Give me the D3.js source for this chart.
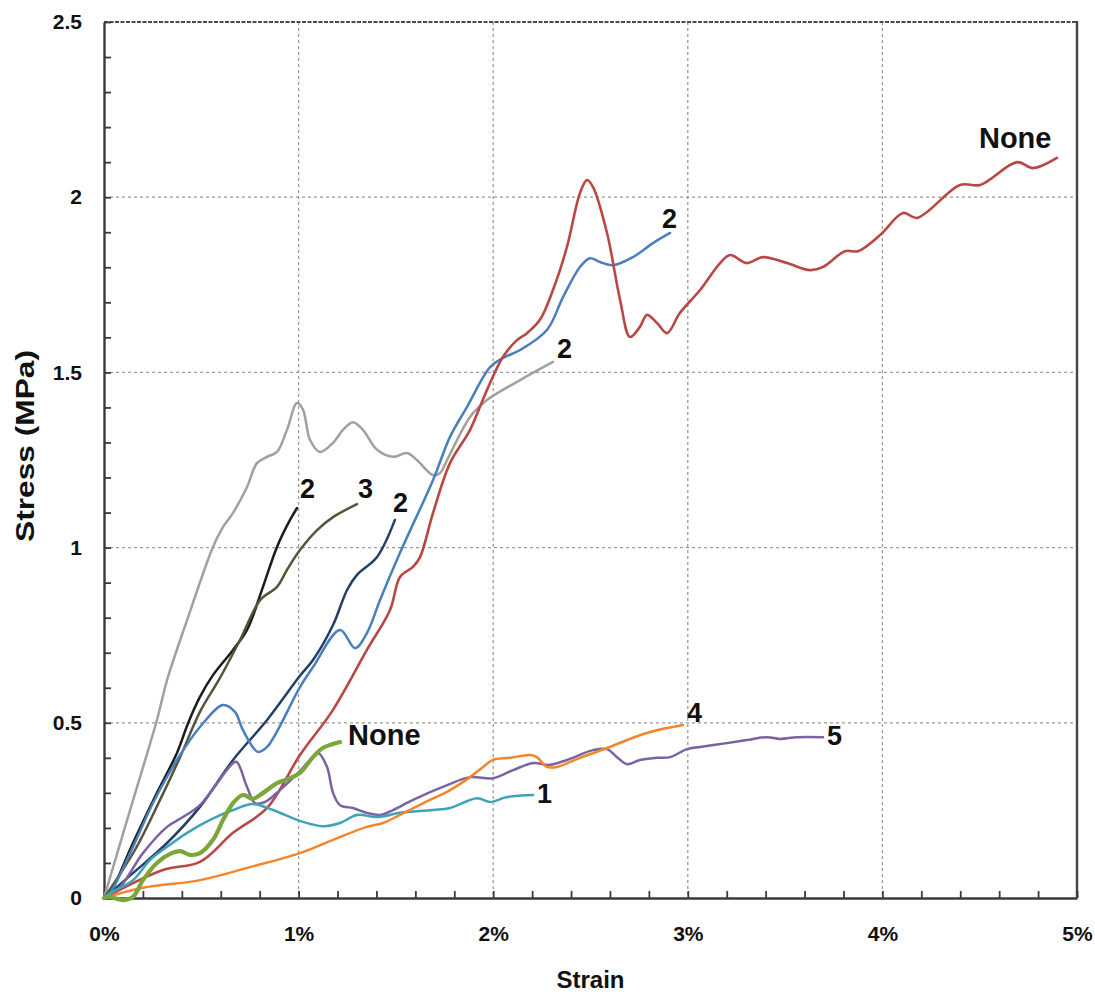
<!DOCTYPE html>
<html><head><meta charset="utf-8">
<script src="https://cdn.jsdelivr.net/npm/d3@7"></script>
<style>
body{margin:0;background:#fff}
svg{display:block}
text{font-family:"Liberation Sans",Arial,sans-serif;font-weight:bold;fill:#111}
</style>
</head><body>
<svg id="chart" width="1095" height="994"></svg>
<script>
// ---------- data ----------
const strainTicks = [0, 1, 2, 3, 4, 5];           // %
const stressTicks = [0, 0.5, 1, 1.5, 2, 2.5];     // MPa
const xTitle = "Strain";
const yTitle = "Stress (MPa)";

// each series: [strain %, stress MPa]
const grayCurve = [[0,0],[0.134,0.251],[0.272,0.508],[0.324,0.622],[0.427,0.793],[0.56,1.002],[0.612,1.059],[0.663,1.099],[0.735,1.173],[0.786,1.241],[0.838,1.259],[0.889,1.273],[0.94,1.336],[0.992,1.413],[1.023,1.393],[1.059,1.307],[1.11,1.273],[1.177,1.299],[1.228,1.336],[1.28,1.358],[1.331,1.336],[1.403,1.279],[1.485,1.259],[1.557,1.27],[1.608,1.25],[1.691,1.207],[1.727,1.213],[1.763,1.25],[1.881,1.373],[1.968,1.421],[2.138,1.478],[2.307,1.53]];
const blackCurve = [[0,0],[0.031,0.014],[0.149,0.157],[0.272,0.3],[0.375,0.414],[0.432,0.499],[0.493,0.574],[0.56,0.636],[0.663,0.708],[0.735,0.765],[0.817,0.888],[0.889,1.002],[0.956,1.079],[0.992,1.113]];
const oliveCurve = [[0,0],[0.159,0.137],[0.288,0.28],[0.391,0.402],[0.493,0.531],[0.596,0.628],[0.699,0.736],[0.802,0.85],[0.889,0.888],[0.94,0.936],[1.007,0.993],[1.095,1.05],[1.177,1.087],[1.3,1.124]];
const navyCurve = [[0,0],[0.031,0.014],[0.149,0.071],[0.324,0.157],[0.493,0.26],[0.663,0.394],[0.838,0.508],[1.007,0.634],[1.074,0.679],[1.177,0.779],[1.249,0.879],[1.3,0.922],[1.403,0.973],[1.495,1.079]];
const blueCurve = [[0,0],[0.031,0.014],[0.149,0.146],[0.252,0.271],[0.375,0.394],[0.493,0.488],[0.612,0.551],[0.673,0.531],[0.714,0.479],[0.791,0.417],[0.838,0.431],[1.007,0.602],[1.074,0.659],[1.213,0.765],[1.29,0.713],[1.351,0.756],[1.418,0.85],[1.521,0.985],[1.691,1.193],[1.778,1.316],[1.865,1.401],[1.984,1.515],[2.05,1.541],[2.138,1.564],[2.276,1.621],[2.359,1.715],[2.446,1.801],[2.497,1.826],[2.549,1.815],[2.616,1.806],[2.718,1.829],[2.821,1.869],[2.909,1.898]];
const redCurve = [[0,0],[0.303,0.08],[0.493,0.103],[0.663,0.186],[0.838,0.257],[1.007,0.408],[1.177,0.537],[1.351,0.708],[1.47,0.822],[1.521,0.916],[1.588,0.945],[1.624,0.973],[1.691,1.099],[1.778,1.241],[1.881,1.336],[1.968,1.45],[2.05,1.544],[2.122,1.592],[2.174,1.612],[2.24,1.65],[2.307,1.735],[2.379,1.858],[2.446,2.012],[2.482,2.049],[2.513,2.029],[2.585,1.898],[2.652,1.707],[2.703,1.601],[2.754,1.63],[2.79,1.664],[2.842,1.641],[2.893,1.612],[2.96,1.67],[3.063,1.735],[3.166,1.812],[3.217,1.835],[3.304,1.812],[3.386,1.829],[3.51,1.812],[3.628,1.792],[3.695,1.801],[3.808,1.846],[3.875,1.846],[3.988,1.892],[4.106,1.955],[4.178,1.941],[4.399,2.035],[4.502,2.035],[4.692,2.1],[4.774,2.083],[4.897,2.112]];
const purpleCurve = [[0,0],[0.082,0.031],[0.2,0.128],[0.324,0.203],[0.406,0.231],[0.493,0.265],[0.663,0.385],[0.683,0.388],[0.735,0.317],[0.776,0.271],[0.827,0.274],[0.904,0.308],[0.997,0.357],[1.059,0.394],[1.1,0.414],[1.146,0.374],[1.177,0.3],[1.213,0.265],[1.28,0.257],[1.351,0.243],[1.418,0.237],[1.485,0.251],[1.588,0.28],[1.763,0.322],[1.881,0.345],[1.999,0.342],[2.102,0.365],[2.205,0.385],[2.292,0.38],[2.379,0.394],[2.513,0.422],[2.585,0.425],[2.636,0.402],[2.688,0.382],[2.754,0.394],[2.842,0.4],[2.909,0.402],[2.996,0.425],[3.063,0.431],[3.201,0.442],[3.304,0.451],[3.407,0.459],[3.474,0.454],[3.561,0.459],[3.695,0.459]];
const cyanCurve = [[0,0],[0.031,0.014],[0.149,0.051],[0.236,0.108],[0.324,0.146],[0.427,0.186],[0.545,0.223],[0.663,0.251],[0.766,0.268],[0.868,0.251],[1.007,0.22],[1.125,0.205],[1.213,0.214],[1.3,0.237],[1.403,0.231],[1.521,0.243],[1.691,0.251],[1.778,0.257],[1.917,0.285],[1.984,0.274],[2.071,0.288],[2.205,0.294]];
const orangeCurve = [[0,0],[0.2,0.029],[0.493,0.051],[0.75,0.088],[1.007,0.128],[1.177,0.166],[1.351,0.203],[1.434,0.214],[1.521,0.237],[1.675,0.28],[1.763,0.303],[1.881,0.345],[1.948,0.374],[1.999,0.394],[2.086,0.4],[2.189,0.408],[2.225,0.402],[2.276,0.374],[2.328,0.374],[2.446,0.4],[2.585,0.428],[2.688,0.451],[2.79,0.471],[2.893,0.485],[2.975,0.494]];
const greenCurve = [[0,0],[0.031,0.003],[0.098,-0.006],[0.149,0.003],[0.2,0.051],[0.272,0.1],[0.339,0.126],[0.391,0.134],[0.442,0.123],[0.493,0.128],[0.56,0.166],[0.612,0.223],[0.663,0.271],[0.714,0.294],[0.766,0.283],[0.817,0.3],[0.889,0.328],[0.956,0.342],[1.007,0.357],[1.074,0.402],[1.125,0.428],[1.213,0.445]];

const curveData   = [grayCurve, blackCurve, oliveCurve, navyCurve, blueCurve, redCurve, purpleCurve, cyanCurve, orangeCurve, greenCurve];
const curveLabels = ["2", "2", "3", "2", "2", "None", "5", "1", "4", "None"];

// ---------- styles (not data) ----------
const curveColors = ["#a0a0a0","#1c1c1c","#55553a","#243f66","#4a7fbd","#b94745","#7a62a3","#3ea3b8","#f5852a","#7aa63a"];
const curveWidths = [2.5,2.5,2.5,2.5,2.5,2.6,2.5,2.5,2.5,4.2];
const labelOffsets = [[4,-4],[3,-10],[1,-6],[-2,-8],[-8,-5],[-78,-10],[4,8],[4,8],[4,-3],[8,3]];
const labelSizes = [27,27,27,27,27,29,27,27,27,29];

// ---------- chart ----------
const svg = d3.select("#chart");
const L = 104, R = 1077, T = 22, B = 898;
const x = d3.scaleLinear().domain([0, 5]).range([L, R]);
const y = d3.scaleLinear().domain([0, 2.5]).range([B, T]);

svg.append("rect").attr("width",1095).attr("height",994).attr("fill","#fff");

// gridlines
const gx = svg.append("g");
gx.selectAll("line.vx").data(strainTicks.filter(d => d > 0 && d < 5)).join("line")
  .attr("x1", d => x(d)).attr("x2", d => x(d)).attr("y1", T).attr("y2", B)
  .attr("stroke", "#9a9a9a").attr("stroke-width", 1.3).attr("stroke-dasharray", "3,3");
gx.selectAll("line.hy").data(stressTicks.filter(d => d > 0 && d < 2.5)).join("line")
  .attr("x1", L).attr("x2", R).attr("y1", d => y(d)).attr("y2", d => y(d))
  .attr("stroke", "#9a9a9a").attr("stroke-width", 1.3).attr("stroke-dasharray", "3,3");
// top (2.5) dashed border and right border
svg.append("line").attr("x1", L).attr("x2", R).attr("y1", y(2.5)).attr("y2", y(2.5))
  .attr("stroke", "#4a4a4a").attr("stroke-width", 2.2).attr("stroke-dasharray", "4,1.5");
svg.append("line").attr("x1", x(5)).attr("x2", x(5)).attr("y1", T - 1).attr("y2", B)
  .attr("stroke", "#444").attr("stroke-width", 2.4);

// axes
const yMinor = d3.range(0, 2.5001, 0.1).map(v => +v.toFixed(2));
const xMinor = d3.range(0, 5.0001, 0.2).map(v => +v.toFixed(2));
const isMajor = (v, step) => Math.abs(v / step - Math.round(v / step)) < 1e-6;

const yAxis = d3.axisLeft(y).tickValues(yMinor).tickSizeInner(-7).tickSizeOuter(0).tickPadding(22)
  .tickFormat(v => isMajor(v, 0.5) ? d3.format("~g")(v) : "");
const xAxis = d3.axisBottom(x).tickValues(xMinor).tickSizeInner(-7).tickSizeOuter(0).tickPadding(28)
  .tickFormat(v => isMajor(v, 1) ? d3.format("~g")(v) + "%" : "");

const ya = svg.append("g").attr("transform", `translate(${L},0)`).call(yAxis);
const xa = svg.append("g").attr("transform", `translate(0,${B})`).call(xAxis);
[ya, xa].forEach(a => {
  a.select(".domain").attr("stroke", "#3a3a3a").attr("stroke-width", 2.4);
  a.selectAll(".tick line").attr("stroke", "#3a3a3a").attr("stroke-width", 1.8);
  a.selectAll(".tick text").attr("font-size", 21).attr("font-weight", "bold")
    .attr("font-family", '"Liberation Sans",Arial,sans-serif').attr("fill", "#111");
});

// curves
const line = d3.line().x(d => x(d[0])).y(d => y(d[1])).curve(d3.curveCatmullRom.alpha(0.5));
const g = svg.append("g");
curveData.forEach((data, i) => {
  g.append("path").datum(data).attr("d", line)
    .attr("fill", "none").attr("stroke", curveColors[i]).attr("stroke-width", curveWidths[i])
    .attr("stroke-linejoin", "round").attr("stroke-linecap", "round");
});

// end labels
curveData.forEach((data, i) => {
  const last = data[data.length - 1];
  svg.append("text").attr("x", x(last[0]) + labelOffsets[i][0]).attr("y", y(last[1]) + labelOffsets[i][1])
    .attr("font-size", labelSizes[i]).text(curveLabels[i]);
});

// axis titles
svg.append("text").attr("x", (L + R) / 2).attr("y", 988).attr("text-anchor", "middle")
  .attr("font-size", 24).text(xTitle);
svg.append("text").attr("transform", `translate(34,446) rotate(-90)`).attr("text-anchor", "middle")
  .attr("font-size", 25).attr("textLength", 192).attr("lengthAdjust", "spacingAndGlyphs").text(yTitle);
</script>
</body></html>
